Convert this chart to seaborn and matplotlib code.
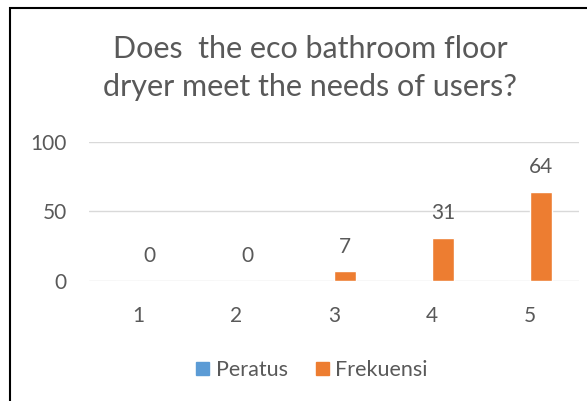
import pandas as pd
import matplotlib.pyplot as plt
import matplotlib.patches as mpatches
import seaborn as sns

# data
categories = ['1', '2', '3', '4', '5']
peratus = [0, 0, 0, 0, 0]
frekuensi = [0, 0, 7, 31, 64]
series_names = ['Peratus', 'Frekuensi']
colors = ['#5B9BD5', '#ED7D31']
title = 'Does  the eco bathroom floor\ndryer meet the needs of users?'

df = pd.DataFrame({
    'category': categories * 2,
    'series': [series_names[0]] * len(categories) + [series_names[1]] * len(categories),
    'value': peratus + frekuensi,
})

sns.set_style('white')
plt.rcParams['font.family'] = ['Lato', 'DejaVu Sans']
grey = '#595959'

fig = plt.figure(figsize=(5.87, 4.01), dpi=100)
ax = fig.add_axes([0.1516, 0.2993, 0.8344, 0.3466])

sns.barplot(data=df, x='category', y='value', hue='series', palette=colors,
            width=0.46, ax=ax, legend=False, saturation=1)

# labels only on the Frekuensi bars
ax.bar_label(ax.containers[1], fmt='%d', padding=10.5, fontsize=15, color=grey)

ax.set_ylim(0, 100)
ax.set_yticks([0, 50, 100])
ax.set_xlim(-0.5, 4.5)
ax.grid(axis='y', color='#D9D9D9', linewidth=1)
ax.set_axisbelow(True)
for s in ax.spines.values():
    s.set_visible(False)
ax.tick_params(axis='y', length=0, pad=16, labelsize=15, labelcolor=grey)
ax.tick_params(axis='x', length=0, pad=18, labelsize=15, labelcolor=grey)
ax.set_xlabel('')
ax.set_ylabel('')

fig.text(310 / 587, 1 - 68 / 401, title, ha='center', va='center',
         fontsize=22, color=grey, linespacing=1.45)

handles = [mpatches.Patch(color=c, label=n) for c, n in zip(colors, series_names)]
fig.legend(handles=handles, loc='center', bbox_to_anchor=(312 / 587, 1 - 370 / 401),
           ncol=2, frameon=False, fontsize=15.5, handlelength=0.6, handleheight=0.6,
           handletextpad=0.3, columnspacing=1.3, labelcolor=grey)

# chart frame, cropped at right and bottom
fig.patches.append(mpatches.Rectangle((10 / 587, -0.1), 1.2, 1 - 8 / 401 + 0.1,
                                      transform=fig.transFigure, fill=False,
                                      edgecolor='black', linewidth=1.5))

fig.savefig('out.png', dpi=100)
